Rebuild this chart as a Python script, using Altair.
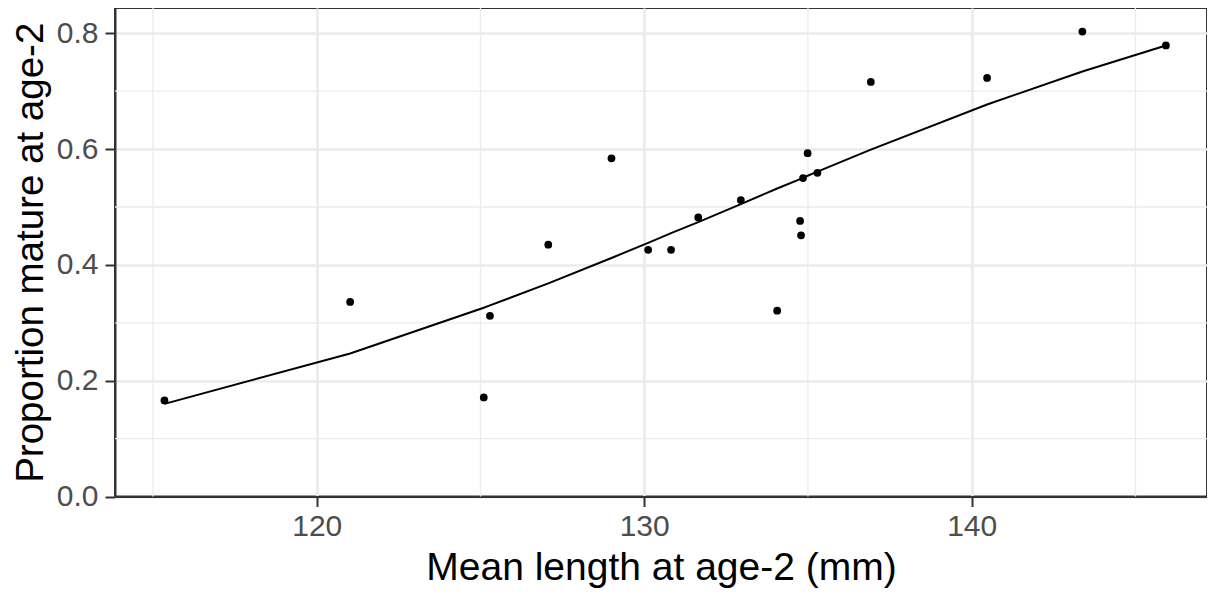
import altair as alt
import pandas as pd

mean_length = [115.35, 121.02, 125.10, 125.29, 127.07, 129.00, 130.12, 130.82,
               131.65, 132.95, 134.06, 134.76, 134.79, 134.85, 134.99, 135.29,
               136.92, 140.47, 143.38, 145.93]
prop_mature = [0.166, 0.336, 0.171, 0.312, 0.435, 0.584, 0.426, 0.426,
               0.482, 0.512, 0.321, 0.476, 0.451, 0.550, 0.593, 0.559,
               0.716, 0.723, 0.803, 0.779]
fitted = [0.160, 0.247, 0.326, 0.330, 0.368, 0.412, 0.438, 0.455,
          0.474, 0.505, 0.532, 0.548, 0.549, 0.551, 0.554, 0.561,
          0.599, 0.677, 0.734, 0.779]

x_major = [120, 130, 140]
y_major = [0.0, 0.2, 0.4, 0.6, 0.8]
x_minor = [115, 125, 135, 145]
y_minor = [0.1, 0.3, 0.5, 0.7]

X_DOMAIN = [113.84, 147.185]
Y_DOMAIN = [0.0, 0.8437]

df = pd.DataFrame({"len": mean_length, "prop": prop_mature, "fit": fitted})
xm = pd.DataFrame({"len": x_minor})
ym = pd.DataFrame({"fit": y_minor})

FONT = "Liberation Sans"
GRID = "#EBEBEB"

xscale = alt.Scale(domain=X_DOMAIN, nice=False, zero=False)
yscale = alt.Scale(domain=Y_DOMAIN, nice=False, zero=False)

xaxis = alt.Axis(values=x_major, title="Mean length at age-2 (mm)", format="d",
                 grid=True, gridColor=GRID, gridWidth=2.6,
                 domainColor="#333333", domainWidth=2,
                 tickColor="#333333", tickWidth=2, tickSize=10,
                 labelFont=FONT, labelFontSize=30, labelColor="#4D4D4D",
                 labelPadding=5,
                 titleFont=FONT, titleFontSize=39, titleColor="#000000",
                 titleFontWeight="normal", titlePadding=7)
yaxis = alt.Axis(values=y_major, title="Proportion mature at age-2", format=".1f",
                 grid=True, gridColor=GRID, gridWidth=2.6,
                 domainColor="#333333", domainWidth=2,
                 tickColor="#333333", tickWidth=2, tickSize=10,
                 labelFont=FONT, labelFontSize=30, labelColor="#4D4D4D",
                 labelPadding=7,
                 titleFont=FONT, titleFontSize=38.5, titleColor="#000000",
                 titleFontWeight="normal", titlePadding=6)

X = alt.X("len:Q", scale=xscale, axis=xaxis)
Y = alt.Y("fit:Q", scale=yscale, axis=yaxis)

minor_x = alt.Chart(xm).mark_rule(color=GRID, strokeWidth=1.3).encode(x=X)
minor_y = alt.Chart(ym).mark_rule(color=GRID, strokeWidth=1.3).encode(y=Y)

base = alt.Chart(df)

line = base.mark_line(color="#000000", strokeWidth=2).encode(
    x=X, y=Y, order="len:Q",
)
points = base.mark_circle(color="#000000", size=60, opacity=1).encode(
    x=X,
    y=alt.Y("prop:Q", scale=yscale, axis=yaxis),
)

chart = alt.layer(minor_x, minor_y, line, points).properties(
    width=1092, height=488.5,
    padding={"left": 107, "top": 0, "right": 0, "bottom": 92},
    autosize=alt.AutoSizeParams(type="none"),
    background="#FFFFFF",
).configure_view(
    stroke="#333333", strokeWidth=2
)

chart.save("out.html", embed_options={"renderer": "svg", "actions": False})
